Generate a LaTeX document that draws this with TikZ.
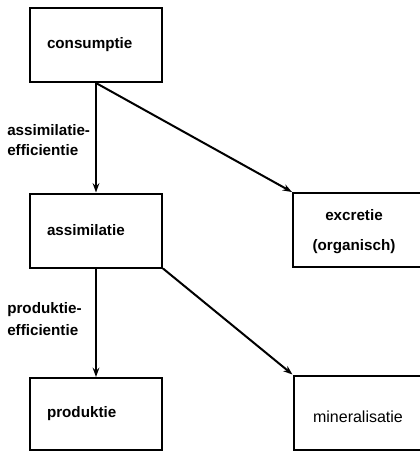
\documentclass[tikz,border=0pt]{standalone}
\usepackage{fontspec}
\setmainfont{Liberation Sans}
\usetikzlibrary{arrows.meta}
\begin{document}
\begin{tikzpicture}[x=0.75pt,y=-0.75pt,
  every node/.style={font=\fontsize{11.4}{22.5}\selectfont\bfseries},
  box/.style={draw,line width=1.5pt,minimum width=99pt,minimum height=55.5pt,
    inner xsep=12.75pt,text width=73.5pt,align=left},
  openbox/.style={draw,line width=1.5pt,minimum width=102.75pt,minimum height=55.5pt,inner sep=0pt},
  flow/.style={line width=1.5pt,-{Stealth[length=7pt,width=5pt]}},
  lbl/.style={align=left,inner sep=0pt,anchor=west}]
\useasboundingbox (0,0) rectangle (420,451);
\clip (0,0) rectangle (420,451);
% left column
\node[box] (cons) at (96,45) {consumptie};
\node[box] (assim) at (96,230.5) {assimilatie};
\node[box,minimum height=54pt] (prod) at (96,414) {produktie};
% right column (boxes run past the right edge)
\node[openbox] (excr) at (361.5,230) {};
\node[align=center] (excrt) at (354,232) {excretie\\(organisch)};
\node[openbox] (miner) at (362,412.5) {};
\node[font=\fontsize{12}{14}\selectfont] (minert) at (358,417) {mineralisatie};
% efficiency labels
\node[lbl] (ae) at (7,140) {assimilatie-\\[-7.5pt]efficientie};
\node[lbl] (pe) at (7,319) {produktie-\\[-6pt]efficientie};
% flows
\draw[flow] (cons.south) -- (assim.north);
\draw[flow] (assim.south) -- (prod.north);
\draw[flow] (cons.south) -- (excr.north west);
\draw[flow] (assim.south east) -- (miner.north west);
\end{tikzpicture}
\end{document}
